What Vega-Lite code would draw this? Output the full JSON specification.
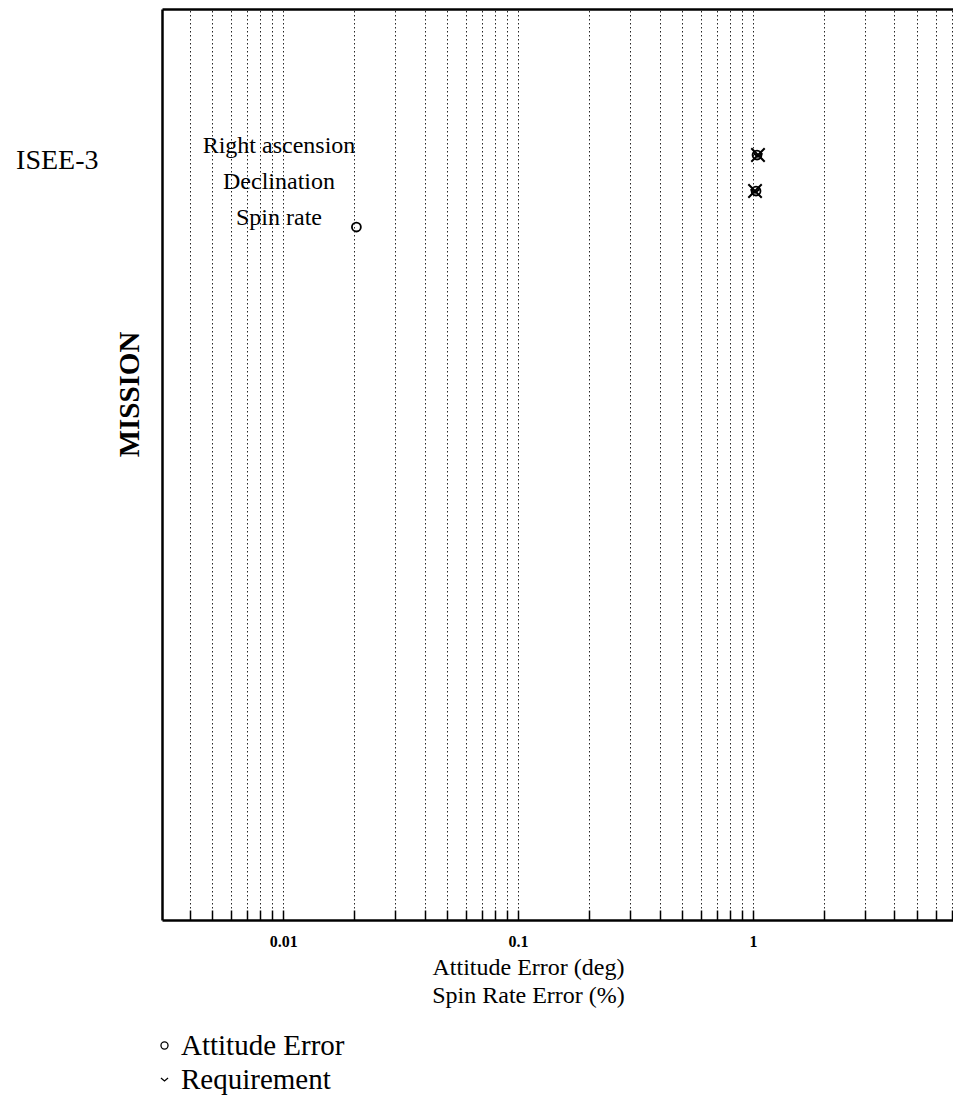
{
  "$schema": "https://vega.github.io/schema/vega-lite/v6.json",
  "autosize": "none",
  "padding": {"left": 162, "top": 9, "right": 0, "bottom": 194},
  "width": 791,
  "height": 911,
  "background": "white",
  "config": {
    "view": {"stroke": null},
    "font": "Liberation Serif"
  },
  "data": {
    "values": [
      {"param": "Right ascension", "row": 1, "value": 1.04, "type": "Attitude Error"},
      {"param": "Declination", "row": 2, "value": 1.03, "type": "Attitude Error"},
      {"param": "Spin rate", "row": 3, "value": 0.0205, "type": "Attitude Error"},
      {"param": "Right ascension", "row": 1, "value": 1.05, "type": "Requirement"},
      {"param": "Declination", "row": 2, "value": 1.02, "type": "Requirement"}
    ]
  },
  "layer": [
    {
      "mark": {"type": "point", "filled": false, "stroke": "black", "strokeWidth": 1.8, "opacity": 1, "size": 80},
      "encoding": {
        "x": {
          "field": "value", "type": "quantitative",
          "scale": {"type": "log", "domain": [0.00305, 7.1], "nice": false},
          "axis": {
            "orient": "bottom",
            "values": [0.004,0.005,0.006,0.007,0.008,0.009,0.01,0.02,0.03,0.04,0.05,0.06,0.07,0.08,0.09,0.1,0.2,0.3,0.4,0.5,0.6,0.7,0.8,0.9,1,2,3,4,5,6,7],
            "labelExpr": "datum.value == 0.01 ? '0.01' : datum.value == 0.1 ? '0.1' : datum.value == 1 ? '1' : ''",
            "labelFont": "Liberation Serif",
            "labelFontSize": 16,
            "labelFontWeight": "bold",
            "labelColor": "black",
            "labelPadding": 23,
            "labelBaseline": "top",
            "ticks": true,
            "tickSize": -10,
            "tickColor": "black",
            "tickWidth": 1.5,
            "grid": true,
            "gridColor": "black",
            "gridDash": [1.5, 2.5],
            "gridWidth": 1,
            "gridOpacity": 0.85,
            "domain": true,
            "domainColor": "black",
            "domainWidth": 2.5,
            "title": ["Attitude Error (deg)", "Spin Rate Error (%)"],
            "titleFont": "Liberation Serif",
            "titleFontSize": 24,
            "titleFontWeight": "normal",
            "titleColor": "black",
            "titleLineHeight": 28,
            "titleX": 366,
            "titleY": 35,
            "titleAlign": "center",
            "titleBaseline": "top"
          }
        },
        "y": {
          "field": "row", "type": "quantitative",
          "scale": {"domain": [-3.056, 22.25], "reverse": true, "zero": false, "nice": false},
          "axis": {
            "values": [1.14],
            "labelExpr": "'ISEE-3'",
            "labelFont": "Liberation Serif",
            "labelFontSize": 28,
            "labelColor": "black",
            "labelPadding": 64,
            "labelAlign": "right",
            "labelBaseline": "middle",
            "ticks": false,
            "grid": false,
            "domain": true,
            "domainColor": "black",
            "domainWidth": 2.5,
            "title": "MISSION",
            "titleFont": "Liberation Serif",
            "titleFontSize": 29,
            "titleFontWeight": "bold",
            "titleColor": "black",
            "titleAngle": -90,
            "titleX": -33,
            "titleY": 385,
            "titleAlign": "center",
            "titleBaseline": "middle"
          }
        },
        "shape": {
          "field": "type", "type": "nominal",
          "scale": {"domain": ["Attitude Error", "Requirement"], "range": ["circle", "M-1,-0.4L0,0.4L1,-0.4"]},
          "legend": {
            "orient": "none",
            "legendX": -12,
            "legendY": 1022,
            "direction": "vertical",
            "title": null,
            "labelFont": "Liberation Serif",
            "labelFontSize": 29,
            "labelColor": "black",
            "labelLimit": 0,
            "labelOffset": 2,
            "rowPadding": 4,
            "symbolSize": 50,
            "symbolStrokeColor": "black",
            "symbolStrokeWidth": 1.3,
            "symbolFillColor": "white"
          }
        }
      }
    },
    {
      "transform": [{"filter": "datum.type == 'Requirement'"}],
      "mark": {"type": "point", "filled": false, "stroke": "black", "strokeWidth": 2, "opacity": 1, "size": 180, "shape": "M-1,-1L1,1M-1,1L1,-1"},
      "encoding": {
        "x": {"field": "value", "type": "quantitative", "axis": null},
        "y": {"field": "row", "type": "quantitative", "axis": null}
      }
    },
    {
      "transform": [{"filter": "datum.type == 'Attitude Error'"}],
      "mark": {"type": "text", "font": "Liberation Serif", "fontSize": 24, "color": "black", "align": "center", "baseline": "middle", "dy": -9},
      "encoding": {
        "x": {
          "datum": 0.0096, "type": "quantitative",
          "axis": {"orient": "top", "labels": false, "ticks": false, "grid": false, "domain": true, "domainColor": "black", "domainWidth": 2.5, "title": null}
        },
        "y": {"field": "row", "type": "quantitative", "axis": null},
        "text": {"field": "param"}
      }
    }
  ],
  "resolve": {"axis": {"x": "independent", "y": "independent"}}
}
